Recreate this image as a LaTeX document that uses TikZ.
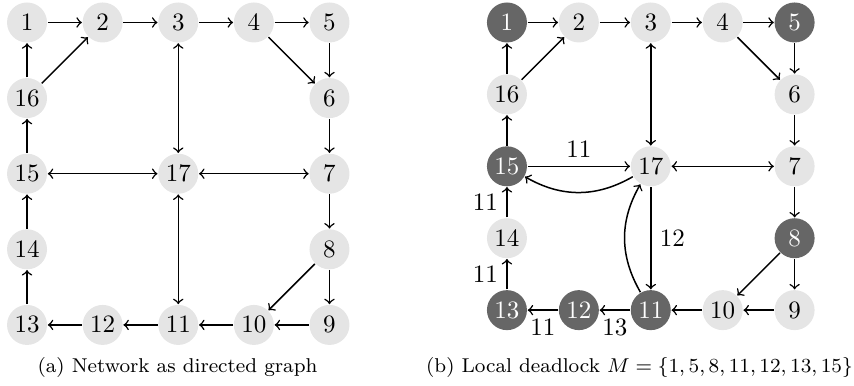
\documentclass[tikz,border=0pt]{standalone}
\usepackage{amsmath,amssymb}
\usetikzlibrary{arrows,positioning,calc}
\tikzset{
  vertex/.style={circle,fill=black!10,minimum size=16pt,inner sep=0pt},
  dead/.style={vertex,fill=black!60,text=white},
}
\begin{document}
\begin{tikzpicture}[semithick,>=to]
    \useasboundingbox (0,0) rectangle (12.006,-5.413);
    % (a) network
    \begin{scope}[shift={(0.380,-0.316)},x=1.063cm,y=-1.063cm]
    \node[vertex] (l_1)  at (0,0) {$1$};
    \node[vertex] (l_2)  at (1,0) {$2$};
    \node[vertex] (l_3)  at (2,0) {$3$};
    \node[vertex] (l_4)  at (3,0) {$4$};
    \node[vertex] (l_5)  at (4,0) {$5$};
    \node[vertex] (l_16) at (0,1) {$16$};
    \node[vertex] (l_6)  at (4,1) {$6$};
    \node[vertex] (l_15) at (0,2) {$15$};
    \node[vertex] (l_17) at (2,2) {$17$};
    \node[vertex] (l_7)  at (4,2) {$7$};
    \node[vertex] (l_14) at (0,3) {$14$};
    \node[vertex] (l_8)  at (4,3) {$8$};
    \node[vertex] (l_13) at (0,4) {$13$};
    \node[vertex] (l_12) at (1,4) {$12$};
    \node[vertex] (l_11) at (2,4) {$11$};
    \node[vertex] (l_10) at (3,4) {$10$};
    \node[vertex] (l_9)  at (4,4) {$9$};
    \path[->]
    (l_1) edge (l_2)
    (l_2) edge (l_3)
    (l_3) edge (l_4)
    (l_4) edge (l_5)
    (l_4) edge (l_6)
    (l_5) edge (l_6)
    (l_6) edge (l_7)
    (l_7) edge (l_8)
    (l_8) edge (l_9)
    (l_8) edge (l_10)
    (l_9) edge (l_10)
    (l_10) edge (l_11)
    (l_11) edge (l_12)
    (l_12) edge (l_13)
    (l_13) edge (l_14)
    (l_14) edge (l_15)
    (l_15) edge (l_16)
    (l_16) edge (l_1)
    (l_16) edge (l_2);
    \path[<->]
    (l_3) edge (l_17)
    (l_15) edge (l_17)
    (l_17) edge (l_7)
    (l_17) edge (l_11);
    \end{scope}
    \node[font=\footnotesize] (capa) at (2.495,-5.16) {(a) Network as directed graph};
    % (b) local deadlock
    \begin{scope}[shift={(7.127,-0.316)},x=1.011cm,y=-1.011cm]
    \node[dead]   (r_1)  at (0,0) {$1$};
    \node[vertex] (r_2)  at (1,0) {$2$};
    \node[vertex] (r_3)  at (2,0) {$3$};
    \node[vertex] (r_4)  at (3,0) {$4$};
    \node[dead]   (r_5)  at (4,0) {$5$};
    \node[vertex] (r_16) at (0,1) {$16$};
    \node[vertex] (r_6)  at (4,1) {$6$};
    \node[dead]   (r_15) at (0,2) {$15$};
    \node[vertex] (r_17) at (2,2) {$17$};
    \node[vertex] (r_7)  at (4,2) {$7$};
    \node[vertex] (r_14) at (0,3) {$14$};
    \node[dead]   (r_8)  at (4,3) {$8$};
    \node[dead]   (r_13) at (0,4) {$13$};
    \node[dead]   (r_12) at (1,4) {$12$};
    \node[dead]   (r_11) at (2,4) {$11$};
    \node[vertex] (r_10) at (3,4) {$10$};
    \node[vertex] (r_9)  at (4,4) {$9$};
    \path[->]
    (r_1) edge (r_2)
    (r_2) edge (r_3)
    (r_3) edge (r_4)
    (r_4) edge (r_5)
    (r_4) edge (r_6)
    (r_5) edge (r_6)
    (r_6) edge (r_7)
    (r_7) edge (r_8)
    (r_8) edge (r_9)
    (r_8) edge (r_10)
    (r_9) edge (r_10)
    (r_10) edge (r_11)
    (r_11) edge [below] node {$13$} (r_12)
    (r_12) edge [below] node {$11$} (r_13)
    (r_13) edge [left] node {$11$} (r_14)
    (r_14) edge [left] node {$11$} (r_15)
    (r_15) edge (r_16)
    (r_16) edge (r_1)
    (r_16) edge (r_2)
    (r_15) edge [above] node {$11$} (r_17)
    (r_17) edge [bend left=30] (r_15)
    (r_17) edge [right] node {$12$} (r_11)
    (r_11) edge [bend left=30] (r_17);
    \path[<->]
    (r_3) edge (r_17)
    (r_17) edge (r_7);
    \end{scope}
    \node[font=\footnotesize] (capb) at (8.99,-5.16) {(b) Local deadlock $M=\{1,5,8,11,12,13,15\}$};
\end{tikzpicture}
\end{document}
